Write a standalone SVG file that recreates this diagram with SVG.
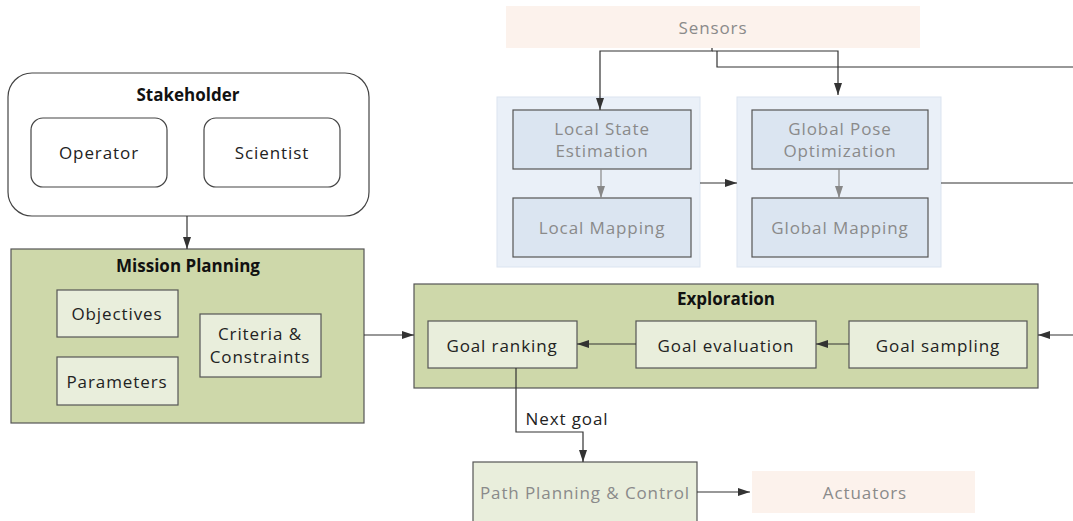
<svg xmlns="http://www.w3.org/2000/svg" width="1073" height="521" viewBox="0 0 1073 521">
  <style>
    text { font-family: "Open Sans", "Noto Sans", "DejaVu Sans", sans-serif; font-size: 17px; letter-spacing: 0.9px; text-anchor: middle; dominant-baseline: central; fill: #222; }
    .title { font-weight: bold; letter-spacing: 0; fill: #111; }
    .dim { fill: #8a8a8a; }
    .rbox { fill: #fff; stroke: #444; stroke-width: 1.2; }
    .green { fill: #ced8aa; stroke: #555; stroke-width: 1.2; }
    .lgreen { fill: #e9eedc; stroke: #555; stroke-width: 1.2; }
    .pale { fill: #fcf2ec; stroke: none; }
    .blueC { fill: #eaf0f8; stroke: #dbe4f0; stroke-width: 1; }
    .blue { fill: #dbe5f1; stroke: #555; stroke-width: 1.2; }
    .wire { fill: none; stroke: #333; stroke-width: 1.2; }
    .wireG { fill: none; stroke: #888; stroke-width: 1.2; }
  </style>
  <defs>
    <marker id="arr" viewBox="0 0 12 10" refX="12" refY="5" markerWidth="12" markerHeight="10" markerUnits="userSpaceOnUse" orient="auto">
      <path d="M0,1 L12,5 L0,9 Z" fill="#333"/>
    </marker>
    <marker id="arrG" viewBox="0 0 12 10" refX="12" refY="5" markerWidth="12" markerHeight="10" markerUnits="userSpaceOnUse" orient="auto">
      <path d="M0,1 L12,5 L0,9 Z" fill="#888"/>
    </marker>
  </defs>

  <!-- Stakeholder -->
  <g id="stakeholder">
    <rect class="rbox" x="8" y="73" width="361" height="143" rx="24"/>
    <text class="title" x="188" y="94">Stakeholder</text>
  </g>
  <g id="operator">
    <rect class="rbox" x="31" y="118" width="136" height="69" rx="12"/>
    <text x="99" y="152">Operator</text>
  </g>
  <g id="scientist">
    <rect class="rbox" x="204" y="118" width="136" height="69" rx="12"/>
    <text x="272" y="152">Scientist</text>
  </g>

  <!-- Mission planning -->
  <g id="mission-planning">
    <rect class="green" x="11" y="249" width="353" height="174"/>
    <text class="title" x="188" y="265">Mission Planning</text>
  </g>
  <g id="objectives">
    <rect class="lgreen" x="57" y="290" width="121" height="47"/>
    <text x="117" y="313">Objectives</text>
  </g>
  <g id="parameters">
    <rect class="lgreen" x="57" y="357" width="121" height="48"/>
    <text x="117" y="381">Parameters</text>
  </g>
  <g id="criteria">
    <rect class="lgreen" x="200" y="314" width="121" height="63"/>
    <text x="260" y="333">Criteria &amp;</text>
    <text x="260" y="356">Constraints</text>
  </g>

  <!-- Sensors -->
  <g id="sensors">
    <rect class="pale" x="506" y="6" width="414" height="42"/>
    <text class="dim" x="713" y="27">Sensors</text>
  </g>

  <!-- Local estimation group -->
  <g id="local-group">
    <rect class="blueC" x="497" y="97" width="203" height="170"/>
  </g>
  <g id="local-state">
    <rect class="blue" x="513" y="110" width="178" height="59"/>
    <text class="dim" x="602" y="128">Local State</text>
    <text class="dim" x="602" y="150">Estimation</text>
  </g>
  <g id="local-mapping">
    <rect class="blue" x="513" y="198" width="178" height="59"/>
    <text class="dim" x="602" y="227">Local Mapping</text>
  </g>

  <!-- Global estimation group -->
  <g id="global-group">
    <rect class="blueC" x="737" y="97" width="204" height="170"/>
  </g>
  <g id="global-pose">
    <rect class="blue" x="752" y="110" width="176" height="59"/>
    <text class="dim" x="840" y="128">Global Pose</text>
    <text class="dim" x="840" y="150">Optimization</text>
  </g>
  <g id="global-mapping">
    <rect class="blue" x="752" y="198" width="176" height="59"/>
    <text class="dim" x="840" y="227">Global Mapping</text>
  </g>

  <!-- Exploration -->
  <g id="exploration">
    <rect class="green" x="414" y="284" width="624" height="104"/>
    <text class="title" x="726" y="298">Exploration</text>
  </g>
  <g id="goal-ranking">
    <rect class="lgreen" x="428" y="321" width="149" height="47"/>
    <text x="502" y="345">Goal ranking</text>
  </g>
  <g id="goal-evaluation">
    <rect class="lgreen" x="636" y="321" width="180" height="47"/>
    <text x="726" y="345">Goal evaluation</text>
  </g>
  <g id="goal-sampling">
    <rect class="lgreen" x="849" y="321" width="178" height="47"/>
    <text x="938" y="345">Goal sampling</text>
  </g>

  <!-- Path planning and actuators -->
  <g id="path-planning">
    <rect class="lgreen" x="473" y="462" width="224" height="64"/>
    <text class="dim" x="585" y="492">Path Planning &amp; Control</text>
  </g>
  <g id="actuators">
    <rect class="pale" x="752" y="471" width="223" height="42"/>
    <text class="dim" x="865" y="492">Actuators</text>
  </g>

  <!-- Connectors -->
  <g id="connectors">
    <path class="wire" d="M187,216 V249" marker-end="url(#arr)"/>
    <path class="wire" d="M364,335 H414" marker-end="url(#arr)"/>
    <path class="wire" d="M712,48 V51 H600 V110" marker-end="url(#arr)"/>
    <path class="wire" d="M712,51 H838 V95" marker-end="url(#arr)"/>
    <path class="wire" d="M717,51 V67 H1073"/>
    <path class="wireG" d="M601,169 V198" marker-end="url(#arrG)"/>
    <path class="wireG" d="M839,169 V198" marker-end="url(#arrG)"/>
    <path class="wire" d="M700,183 H737" marker-end="url(#arr)"/>
    <path class="wire" d="M941,183 H1073"/>
    <path class="wire" d="M1073,335 H1038" marker-end="url(#arr)"/>
    <path class="wire" d="M849,344 H816" marker-end="url(#arr)"/>
    <path class="wire" d="M636,344 H577" marker-end="url(#arr)"/>
    <path class="wire" d="M516,368 V432 H583 V462" marker-end="url(#arr)"/>
    <path class="wire" d="M697,492 H750" marker-end="url(#arr)"/>
    <text x="567" y="418">Next goal</text>
  </g>
</svg>
